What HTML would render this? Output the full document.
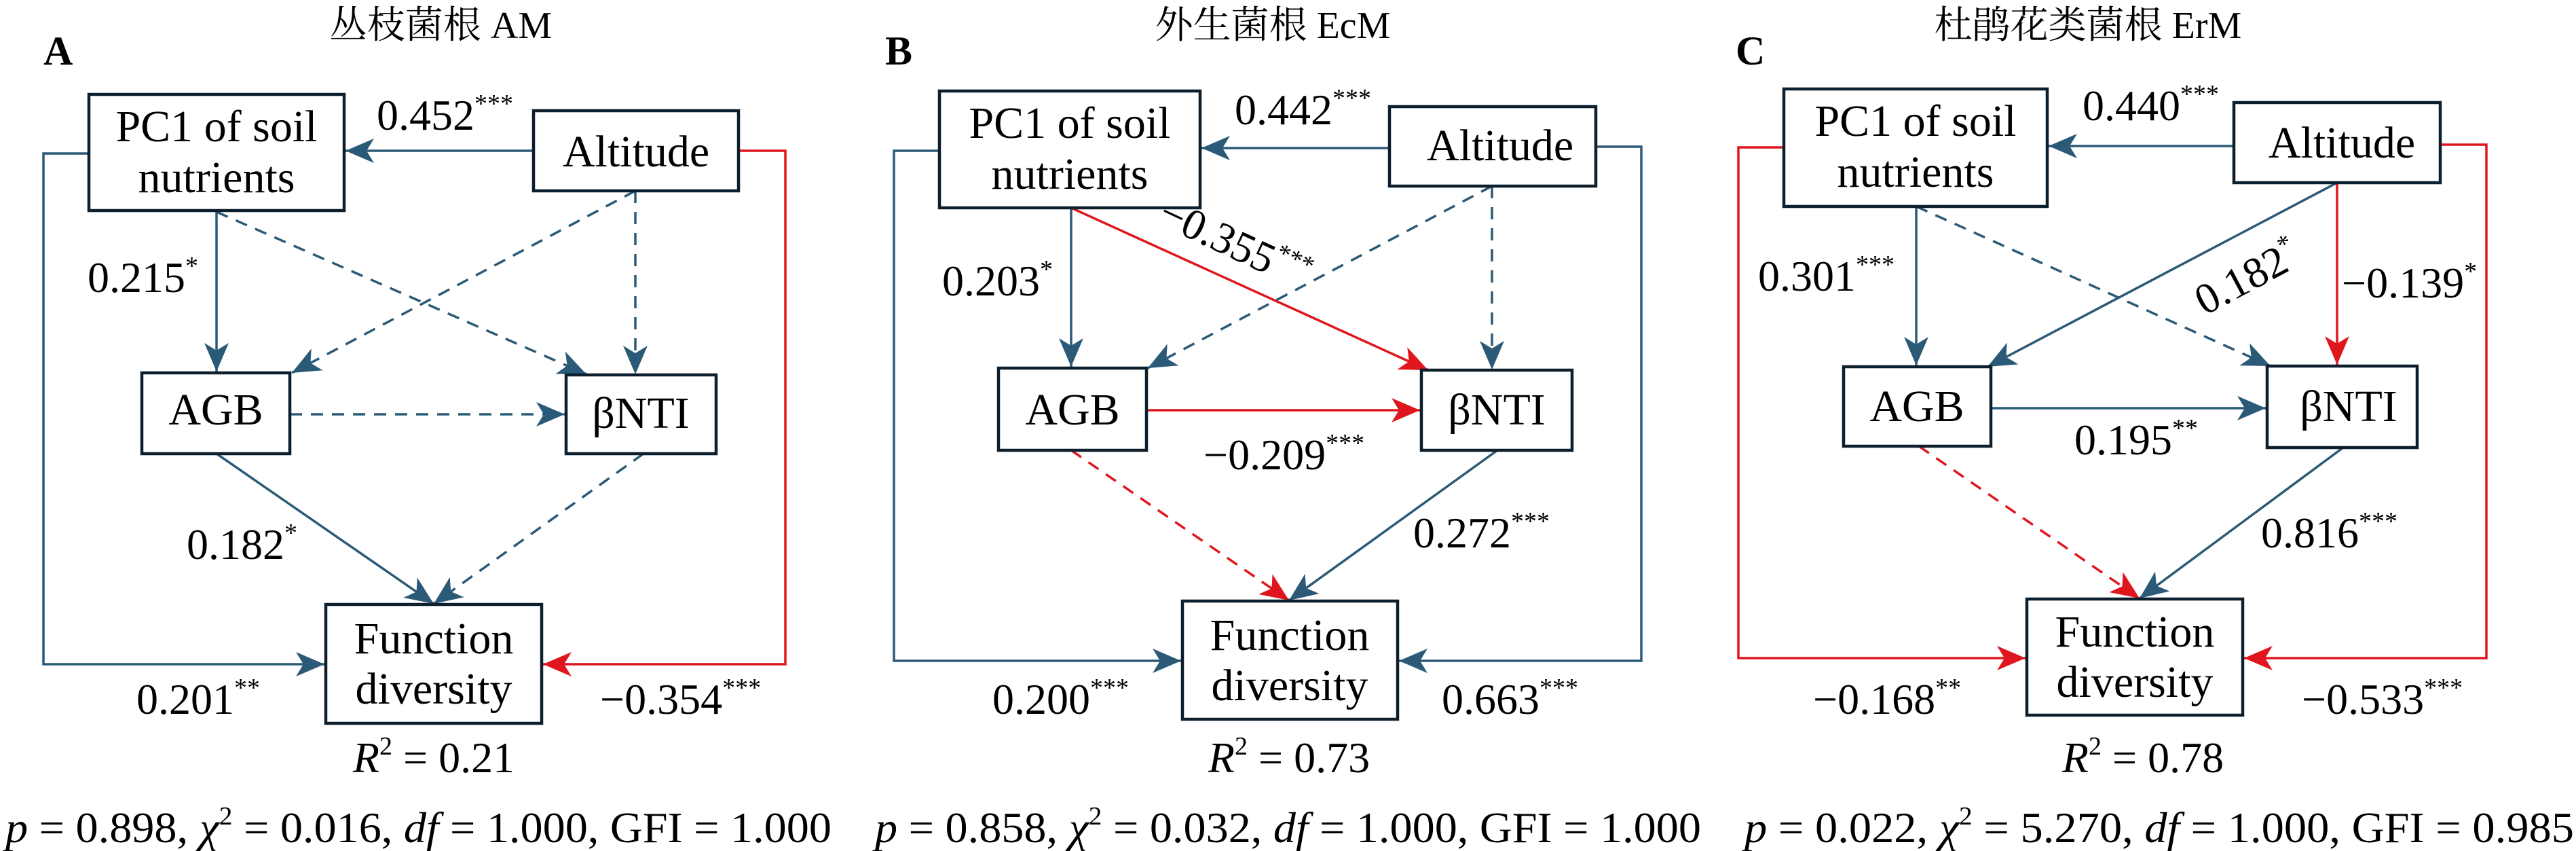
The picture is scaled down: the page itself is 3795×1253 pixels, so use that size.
<!DOCTYPE html>
<html><head><meta charset="utf-8"><style>
html,body{margin:0;padding:0;background:#fff}
svg{display:block}
</style></head><body>
<svg width="3795" height="1253" viewBox="0 0 3795 1253" xmlns="http://www.w3.org/2000/svg">
<defs>
<marker id="mb" markerUnits="userSpaceOnUse" markerWidth="60" markerHeight="60" viewBox="-50 -30 60 60" refX="0" refY="0" orient="auto"><path d="M0,0 L-42,-18 L-31,0 L-42,18 Z" fill="#2b5a78"/></marker>
<marker id="mr" markerUnits="userSpaceOnUse" markerWidth="60" markerHeight="60" viewBox="-50 -30 60 60" refX="0" refY="0" orient="auto"><path d="M0,0 L-42,-18 L-31,0 L-42,18 Z" fill="#e0161e"/></marker>
</defs>
<style>
.b{stroke:#2b5a78;stroke-width:3.5;fill:none}
.r{stroke:#e0161e;stroke-width:3.5;fill:none}
.d{stroke-dasharray:18,13}
.box{fill:#fff;stroke:#0d1f2d;stroke-width:4.5}
.t{font-size:64px}
.bt{font-size:66px;text-anchor:middle}
.st{font-size:38px}
.ttl{font-size:56px;text-anchor:middle}
.pl{font-size:60px;font-weight:bold}
</style>
<g font-family="Times New Roman, Liberation Serif, serif" style="font-family:'Times New Roman','Liberation Serif','Noto Serif CJK SC',serif">

<!-- ===== Panel A ===== -->
<text class="ttl" x="649" y="56">丛枝菌根 AM</text>
<text class="pl" x="64" y="95">A</text>
<polyline class="b" points="131,226 64,226 64,978 478,978" marker-end="url(#mb)"/>
<polyline class="r" points="1088,222 1157,222 1157,978 800,978" marker-end="url(#mr)"/>
<line class="b" x1="786" y1="222" x2="509" y2="222" marker-end="url(#mb)"/>
<line class="b" x1="319" y1="310" x2="319" y2="547" marker-end="url(#mb)"/>
<line class="b d" x1="319" y1="312" x2="864" y2="551" marker-end="url(#mb)"/>
<line class="b d" x1="936" y1="281" x2="430" y2="549" marker-end="url(#mb)"/>
<line class="b d" x1="936" y1="281" x2="936" y2="551" marker-end="url(#mb)"/>
<line class="b d" x1="427" y1="610" x2="832" y2="610" marker-end="url(#mb)"/>
<line class="b" x1="319" y1="668" x2="639" y2="889" marker-end="url(#mb)"/>
<line class="b d" x1="948" y1="668" x2="639" y2="889" marker-end="url(#mb)"/>
<rect class="box" x="131" y="139" width="376" height="171"/>
<text class="bt" x="319" y="208">PC1 of soil</text><text class="bt" x="319" y="283">nutrients</text>
<rect class="box" x="786" y="163" width="302" height="118"/>
<text class="bt" x="937" y="245">Altitude</text>
<rect class="box" x="209" y="549" width="218" height="119"/>
<text class="bt" x="318" y="625">AGB</text>
<rect class="box" x="834" y="552" width="221" height="116"/>
<text class="bt" x="944" y="630">βNTI</text>
<rect class="box" x="480" y="890" width="318" height="175"/>
<text class="bt" x="639" y="962">Function</text><text class="bt" x="639" y="1036">diversity</text>
<text class="t" x="555" y="191">0.452<tspan class="st" dy="-26">***</tspan></text>
<text class="t" x="129" y="430">0.215<tspan class="st" dy="-26">*</tspan></text>
<text class="t" x="275" y="823">0.182<tspan class="st" dy="-26">*</tspan></text>
<text class="t" x="201" y="1051">0.201<tspan class="st" dy="-26">**</tspan></text>
<text class="t" x="884" y="1051">−0.354<tspan class="st" dy="-26">***</tspan></text>
<text class="t" x="639" y="1137" text-anchor="middle"><tspan font-style="italic">R</tspan><tspan class="st" dy="-26">2</tspan><tspan dy="26"> = 0.21</tspan></text>
<text class="t" x="8" y="1240" textLength="1217" lengthAdjust="spacingAndGlyphs"><tspan font-style="italic">p</tspan> = 0.898, <tspan font-style="italic">χ</tspan><tspan class="st" dy="-26">2</tspan><tspan dy="26"> = 0.016, </tspan><tspan font-style="italic">df</tspan> = 1.000, GFI = 1.000</text>

<!-- ===== Panel B ===== -->
<text class="ttl" x="1875" y="56">外生菌根 EcM</text>
<text class="pl" x="1304" y="95">B</text>
<polyline class="b" points="1384,222 1317,222 1317,973 1740,973" marker-end="url(#mb)"/>
<polyline class="b" points="2351,216 2418,216 2418,973 2061,973" marker-end="url(#mb)"/>
<line class="b" x1="2047" y1="218" x2="1770" y2="218" marker-end="url(#mb)"/>
<line class="b" x1="1578" y1="306" x2="1578" y2="540" marker-end="url(#mb)"/>
<line class="r" x1="1578" y1="306" x2="2104" y2="545" marker-end="url(#mr)"/>
<line class="b d" x1="2198" y1="274" x2="1691" y2="542" marker-end="url(#mb)"/>
<line class="b d" x1="2198" y1="274" x2="2198" y2="544" marker-end="url(#mb)"/>
<line class="r" x1="1689" y1="604" x2="2092" y2="604" marker-end="url(#mr)"/>
<line class="r d" x1="1578" y1="663" x2="1899" y2="884" marker-end="url(#mr)"/>
<line class="b" x1="2206" y1="663" x2="1899" y2="884" marker-end="url(#mb)"/>
<rect class="box" x="1384" y="134" width="384" height="172"/>
<text class="bt" x="1576" y="203">PC1 of soil</text><text class="bt" x="1576" y="278">nutrients</text>
<rect class="box" x="2047" y="157" width="304" height="117"/>
<text class="bt" x="2210" y="236">Altitude</text>
<rect class="box" x="1471" y="542" width="218" height="121"/>
<text class="bt" x="1580" y="625">AGB</text>
<rect class="box" x="2094" y="545" width="222" height="118"/>
<text class="bt" x="2205" y="625">βNTI</text>
<rect class="box" x="1742" y="885" width="317" height="174"/>
<text class="bt" x="1900" y="957">Function</text><text class="bt" x="1900" y="1031">diversity</text>
<text class="t" x="1819" y="183">0.442<tspan class="st" dy="-26">***</tspan></text>
<text class="t" x="1388" y="435">0.203<tspan class="st" dy="-26">*</tspan></text>
<text class="t" transform="translate(1703,328) rotate(25)">−0.355<tspan class="st" dy="-26">***</tspan></text>
<text class="t" x="1773" y="691">−0.209<tspan class="st" dy="-26">***</tspan></text>
<text class="t" x="2082" y="806">0.272<tspan class="st" dy="-26">***</tspan></text>
<text class="t" x="1462" y="1051">0.200<tspan class="st" dy="-26">***</tspan></text>
<text class="t" x="2124" y="1051">0.663<tspan class="st" dy="-26">***</tspan></text>
<text class="t" x="1899" y="1137" text-anchor="middle"><tspan font-style="italic">R</tspan><tspan class="st" dy="-26">2</tspan><tspan dy="26"> = 0.73</tspan></text>
<text class="t" x="1289" y="1240" textLength="1217" lengthAdjust="spacingAndGlyphs"><tspan font-style="italic">p</tspan> = 0.858, <tspan font-style="italic">χ</tspan><tspan class="st" dy="-26">2</tspan><tspan dy="26"> = 0.032, </tspan><tspan font-style="italic">df</tspan> = 1.000, GFI = 1.000</text>

<!-- ===== Panel C ===== -->
<text class="ttl" x="3076" y="56">杜鹃花类菌根 ErM</text>
<text class="pl" x="2557" y="95">C</text>
<polyline class="r" points="2628,217 2561,217 2561,969 2984,969" marker-end="url(#mr)"/>
<polyline class="r" points="3595,213 3663,213 3663,969 3306,969" marker-end="url(#mr)"/>
<line class="b" x1="3291" y1="215" x2="3018" y2="215" marker-end="url(#mb)"/>
<line class="b" x1="2823" y1="304" x2="2823" y2="538" marker-end="url(#mb)"/>
<line class="b d" x1="2823" y1="304" x2="3345" y2="539" marker-end="url(#mb)"/>
<line class="b" x1="3443" y1="269" x2="2928" y2="540" marker-end="url(#mb)"/>
<line class="r" x1="3443" y1="269" x2="3443" y2="537" marker-end="url(#mr)"/>
<line class="b" x1="2933" y1="601" x2="3338" y2="601" marker-end="url(#mb)"/>
<line class="r d" x1="2827" y1="657" x2="3152" y2="881" marker-end="url(#mr)"/>
<line class="b" x1="3452" y1="659" x2="3152" y2="881" marker-end="url(#mb)"/>
<rect class="box" x="2628" y="131" width="388" height="173"/>
<text class="bt" x="2822" y="200">PC1 of soil</text><text class="bt" x="2822" y="275">nutrients</text>
<rect class="box" x="3291" y="151" width="304" height="118"/>
<text class="bt" x="3450" y="232">Altitude</text>
<rect class="box" x="2716" y="540" width="217" height="117"/>
<text class="bt" x="2824" y="620">AGB</text>
<rect class="box" x="3340" y="539" width="221" height="120"/>
<text class="bt" x="3460" y="620">βNTI</text>
<rect class="box" x="2986" y="882" width="318" height="171"/>
<text class="bt" x="3145" y="952">Function</text><text class="bt" x="3145" y="1026">diversity</text>
<text class="t" x="3068" y="177">0.440<tspan class="st" dy="-26">***</tspan></text>
<text class="t" x="2590" y="428">0.301<tspan class="st" dy="-26">***</tspan></text>
<text class="t" transform="translate(3248,465) rotate(-28)">0.182<tspan class="st" dy="-26">*</tspan></text>
<text class="t" x="3450" y="438">−0.139<tspan class="st" dy="-26">*</tspan></text>
<text class="t" x="3056" y="669">0.195<tspan class="st" dy="-26">**</tspan></text>
<text class="t" x="3331" y="806">0.816<tspan class="st" dy="-26">***</tspan></text>
<text class="t" x="2671" y="1051">−0.168<tspan class="st" dy="-26">**</tspan></text>
<text class="t" x="3391" y="1051">−0.533<tspan class="st" dy="-26">***</tspan></text>
<text class="t" x="3157" y="1137" text-anchor="middle"><tspan font-style="italic">R</tspan><tspan class="st" dy="-26">2</tspan><tspan dy="26"> = 0.78</tspan></text>
<text class="t" x="2570" y="1240" textLength="1222" lengthAdjust="spacingAndGlyphs"><tspan font-style="italic">p</tspan> = 0.022, <tspan font-style="italic">χ</tspan><tspan class="st" dy="-26">2</tspan><tspan dy="26"> = 5.270, </tspan><tspan font-style="italic">df</tspan> = 1.000, GFI = 0.985</text>
</g>
</svg>
</body></html>
